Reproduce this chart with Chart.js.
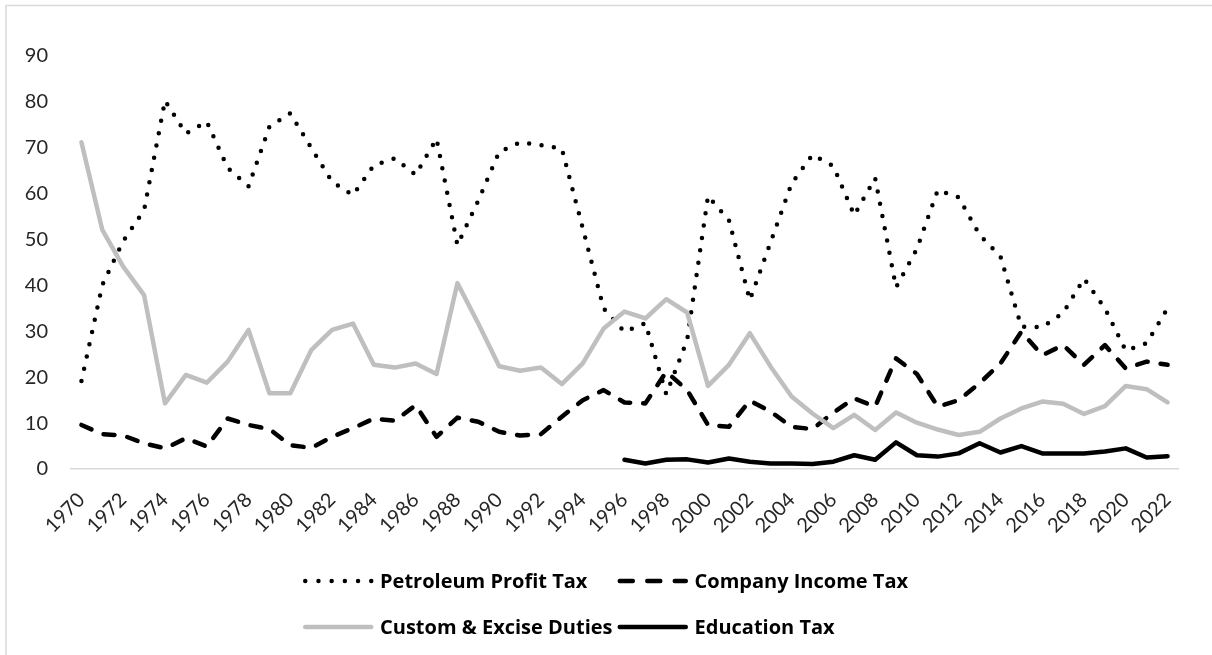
<!DOCTYPE html>
<html>
<head>
<meta charset="utf-8">
<script src="https://cdn.jsdelivr.net/npm/chart.js@4.4.1/dist/chart.umd.min.js"></script>
<style>
  html, body { margin: 0; padding: 0; background: #fff; }
  #wrap { width: 1212px; height: 655px; }
</style>
</head>
<body>
<div id="wrap"><canvas id="chartTaxes"></canvas></div>
<script>
// Years on the x axis
const years = [];
for (let y = 1970; y <= 2022; y++) years.push(String(y));

// Series values
const petroleumProfitTax = [
  19.2, 40.1, 49.7, 56.4, 80.3, 73.1, 75.7, 65.6, 61.6, 74.6,
  77.5, 70.0, 62.6, 59.7, 66.2, 67.7, 64.1, 72.0, 48.8, 58.5,
  69.1, 71.2, 70.6, 69.8, 52.5, 35.0, 29.9, 31.8, 16.3, 28.1,
  59.5, 54.2, 36.8, 49.5, 62.2, 68.5, 66.0, 55.3, 63.4, 39.6,
  48.0, 60.8, 59.2, 51.0, 46.3, 31.0, 30.9, 34.0, 41.5, 35.0,
  25.8, 27.4, 35.0
];
const companyIncomeTax = [
   9.6,  7.6,  7.3,  5.6,  4.5,  6.7,  4.9, 11.0,  9.6,  8.7,
   5.2,  4.6,  7.0,  8.9, 11.0, 10.5, 13.9,  7.0, 11.2, 10.3,
   8.1,  7.3,  7.6, 11.4, 15.0, 17.2, 14.5, 14.3, 21.2, 17.2,
   9.6,  9.2, 14.9, 12.5,  9.2,  8.7, 12.3, 15.4, 13.6, 24.1,
  20.7, 13.6, 15.0, 18.7, 23.0, 29.9, 24.8, 27.0, 22.7, 27.0,
  21.9, 23.4, 22.7
];
const customExciseDuties = [
  71.2, 52.1, 44.1, 37.9, 14.3, 20.5, 18.8, 23.4, 30.3, 16.5,
  16.5, 25.9, 30.3, 31.7, 22.7, 22.1, 23.0, 20.7, 40.5, 31.7,
  22.4, 21.4, 22.1, 18.5, 23.0, 30.6, 34.3, 32.8, 37.0, 34.1,
  18.1, 22.7, 29.6, 22.3, 15.8, 12.1,  8.9, 11.8,  8.5, 12.3,
  10.1,  8.6,  7.4,  8.1, 11.0, 13.2, 14.7, 14.2, 12.0, 13.7,
  18.1, 17.4, 14.5
];
const educationTax = [
  null, null, null, null, null, null, null, null, null, null,
  null, null, null, null, null, null, null, null, null, null,
  null, null, null, null, null, null,  2.0,  1.2,  2.0,  2.1,
   1.4,  2.3,  1.6,  1.2,  1.2,  1.1,  1.6,  3.0,  2.0,  5.8,
   3.0,  2.7,  3.4,  5.6,  3.6,  5.0,  3.4,  3.4,  3.4,  3.8,
   4.5,  2.5,  2.8
];

const yTicks = [0, 10, 20, 30, 40, 50, 60, 70, 80, 90];

const LINE_W = 4.5;
const DOT_DASH = [0, 12.5];
const LONG_DASH = [11, 13];

// Excel-like frame: only the top and left edges fall inside the picture
const framePlugin = {
  id: 'frame',
  beforeDraw(chart) {
    const ctx = chart.ctx;
    ctx.save();
    ctx.fillStyle = '#fff';
    ctx.fillRect(0, 0, chart.width, chart.height);
    ctx.strokeStyle = '#D9D9D9';
    ctx.lineWidth = 1.5;
    ctx.beginPath();
    ctx.moveTo(6, chart.height);
    ctx.lineTo(6, 5.5);
    ctx.lineTo(chart.width, 5.5);
    ctx.stroke();
    ctx.restore();
  }
};

// Legend laid out in two columns x two rows, like Excel does it
const gridLegend = {
  id: 'gridLegend',
  afterDraw(chart) {
    const ctx = chart.ctx;
    const sets = chart.data.datasets;
    const markW = 70, gap = 7, colGap = 5;
    ctx.save();
    ctx.font = 'bold 20px "Open Sans"';
    const colW = [0, 0];
    sets.forEach((ds, i) => {
      const w = markW + gap + ctx.measureText(ds.label).width;
      colW[i % 2] = Math.max(colW[i % 2], w);
    });
    const x0 = Math.round((chart.width - (colW[0] + colGap + colW[1])) / 2);
    const rowY = [chart.height - 74, chart.height - 28];
    sets.forEach((ds, i) => {
      const x = x0 + (i % 2 ? colW[0] + colGap : 0);
      const y = rowY[Math.floor(i / 2)];
      const r = ds.borderWidth / 2;
      ctx.strokeStyle = ds.borderColor;
      ctx.lineWidth = ds.borderWidth;
      ctx.lineCap = 'round';
      ctx.setLineDash(ds.legendDash || []);
      ctx.beginPath();
      ctx.moveTo(x + r, y);
      ctx.lineTo(x + markW - r + 0.5, y);
      ctx.stroke();
      ctx.setLineDash([]);
      ctx.fillStyle = '#000';
      ctx.textBaseline = 'middle';
      ctx.textAlign = 'left';
      ctx.fillText(ds.label, x + markW + gap, y + 1);
    });
    ctx.restore();
  }
};

const ctxTaxes = document.getElementById('chartTaxes');
new Chart(ctxTaxes, {
  type: 'line',
  data: {
    labels: years,
    datasets: [
      {
        label: 'Petroleum Profit Tax',
        data: petroleumProfitTax,
        borderColor: '#000',
        backgroundColor: '#000',
        borderWidth: LINE_W,
        borderDash: DOT_DASH,
        legendDash: [0, 13.2],
        borderCapStyle: 'round',
        order: 4
      },
      {
        label: 'Company Income Tax',
        data: companyIncomeTax,
        borderColor: '#000',
        backgroundColor: '#000',
        borderWidth: LINE_W,
        borderDash: LONG_DASH,
        legendDash: [13, 14.5],
        borderCapStyle: 'round',
        order: 3
      },
      {
        label: 'Custom & Excise Duties',
        data: customExciseDuties,
        borderColor: '#BFBFBF',
        backgroundColor: '#BFBFBF',
        borderWidth: LINE_W,
        borderCapStyle: 'round',
        order: 2
      },
      {
        label: 'Education Tax',
        data: educationTax,
        borderColor: '#000',
        backgroundColor: '#000',
        borderWidth: LINE_W,
        borderCapStyle: 'round',
        order: 1
      }
    ]
  },
  options: {
    responsive: true,
    maintainAspectRatio: false,
    animation: false,
    layout: {
      padding: { top: 56, left: 0, right: 34, bottom: 0 }
    },
    elements: {
      point: { radius: 0, hoverRadius: 0 },
      line: { tension: 0, borderJoinStyle: 'round' }
    },
    scales: {
      x: {
        offset: true,
        grid: { display: false, drawTicks: false },
        border: { display: true, color: '#D9D9D9', width: 1.5 },
        afterFit: (scale) => { scale.height = 186; },
        ticks: {
          autoSkip: false,
          maxRotation: 45,
          minRotation: 45,
          padding: 19,
          color: '#262626',
          font: { family: 'Lato', size: 20 },
          callback: function(value, index) {
            return index % 2 === 0 ? this.getLabelForValue(value) : '';
          }
        }
      },
      y: {
        min: 0,
        max: 90,
        afterBuildTicks: (axis) => { axis.ticks = yTicks.map(v => ({ value: v })); },
        afterFit: (scale) => { scale.width = 71; },
        grid: { display: false, drawTicks: false },
        border: { display: false },
        ticks: {
          padding: 23,
          color: '#262626',
          font: { family: 'Lato', size: 20 }
        }
      }
    },
    plugins: {
      tooltip: { enabled: false },
      legend: { display: false }
    }
  },
  plugins: [framePlugin, gridLegend]
});
</script>
</body>
</html>
